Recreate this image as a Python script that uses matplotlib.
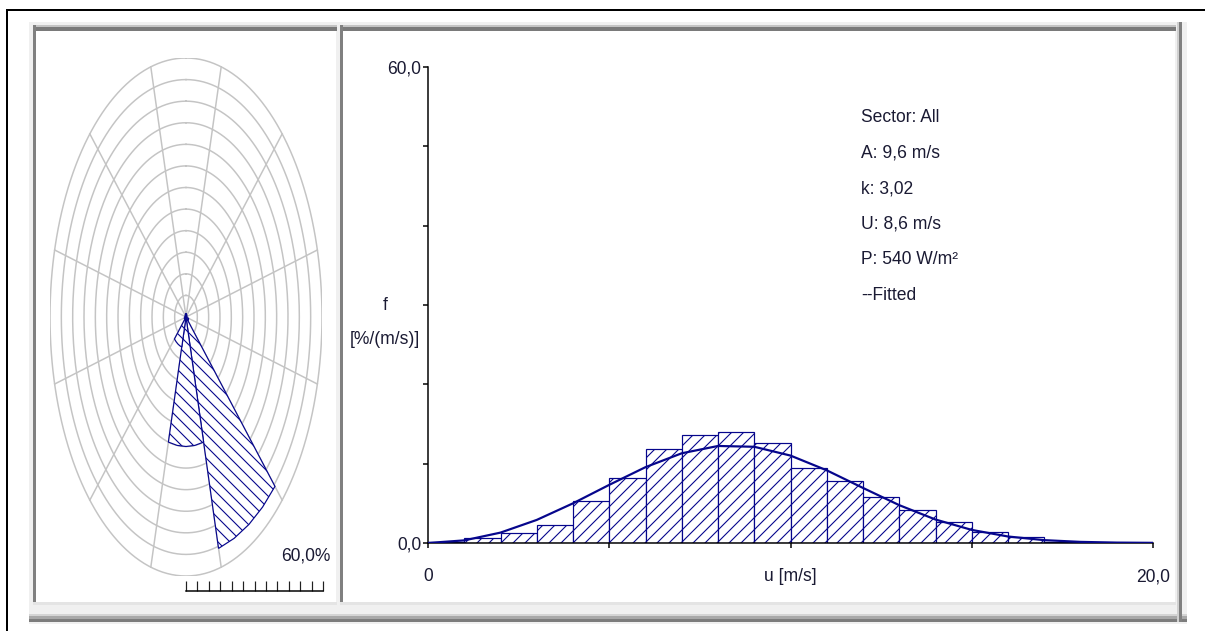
import matplotlib
matplotlib.use('Agg')
import matplotlib.pyplot as plt
from matplotlib.patches import Rectangle, Polygon
import numpy as np

# ---- data ----
# wind rose: 12 sectors, frequency in %
sector_centers = [0, 30, 60, 90, 120, 150, 180, 210, 240, 270, 300, 330]
sector_freq = [0.8, 0.6, 0.4, 0.4, 1.2, 55.5, 30.0, 7.2, 0.8, 0.5, 0.4, 0.6]
rose_rings = [5, 10, 15, 20, 25, 30, 35, 40, 45, 50, 55, 60]
rose_max = 60

# histogram, 1 m/s bins, f in %/(m/s)
bin_edges = list(range(0, 21))
hist_vals = [0.1, 0.6, 1.2, 2.3, 5.3, 8.2, 11.9, 13.6, 14.0, 12.6,
             9.4, 7.8, 5.8, 4.2, 2.7, 1.4, 0.7, 0.15, 0.0, 0.0]

# fitted Weibull curve (A 9,6 / k 3,02) read at each m/s
fit_u = list(range(0, 21))
fit_f = [0.0, 0.33, 1.31, 2.91, 5.0, 7.33, 9.56, 11.31, 12.23, 12.13,
         11.02, 9.16, 6.94, 4.77, 2.96, 1.65, 0.82, 0.36, 0.14, 0.05, 0.02]

info_lines = ['Sector: All', 'A: 9,6 m/s', 'k: 3,02', 'U: 8,6 m/s',
              'P: 540 W/m\u00b2', '--Fitted']

x_ticks = [0, 5, 10, 15, 20]
x_labels = ['0', '', 'u [m/s]', '', '20,0']
y_ticks = [0, 10, 20, 30, 40, 50, 60]
y_labels = ['0,0', '', '', '', '', '', '60,0']

NAVY = '#06068c'
TXT = '#1a1a33'
GRID = '#c4c4c4'
FS = 17.5

W, H = 1205, 631
DPI = 72
plt.rcParams['font.family'] = ['Liberation Sans', 'DejaVu Sans']
plt.rcParams['hatch.color'] = NAVY
plt.rcParams['hatch.linewidth'] = 1.1

fig = plt.figure(figsize=(W / DPI, H / DPI), dpi=DPI)
fig.patch.set_facecolor('white')


def fx(px):
    return px / W


def fy(py):
    return 1 - py / H


def box(x0, y0, x1, y1, color):
    fig.patches.append(Rectangle((fx(x0), fy(y1)), (x1 - x0) / W, (y1 - y0) / H,
                                 transform=fig.transFigure, facecolor=color,
                                 edgecolor='none', zorder=-10))


# window frame
box(29, 22, 1187, 624, '#f0f0f0')
box(29, 614, 1187, 616, '#d4d4d4')
box(29, 616, 1187, 619, '#a8a8a8')
box(29, 619, 1187, 622, '#7c7c7c')
box(1177, 22, 1179, 622, '#d0d0d0')
box(1179, 22, 1182, 622, '#808080')
for x0, x1 in [(33, 337), (340, 1176)]:
    box(x0, 25, x1, 27, '#c4c4c4')
    box(x0, 27, x1, 31, '#7a7a7a')
    box(x0, 25, x0 + 3, 604, '#808080')
    box(x0 + 3, 31, x1 - 1, 602, 'white')
    box(x0, 602, x1, 605, '#e4e4e4')
box(6, 9, 1205, 11, 'black')
box(6, 9, 8, 631, 'black')

# ---- wind rose ----
ax_r = fig.add_axes([fx(50), fy(576), 272 / W, 518 / H])
ax_r.set_xlim(-rose_max, rose_max)
ax_r.set_ylim(-rose_max, rose_max)
ax_r.axis('off')
t = np.linspace(0, 2 * np.pi, 361)
for r in rose_rings:
    ax_r.plot(r * np.sin(t), r * np.cos(t), color=GRID, lw=1.5, zorder=1)
for c in sector_centers:
    a = np.radians(c + 15)
    ax_r.plot([0, rose_max * np.sin(a)], [0, rose_max * np.cos(a)],
              color=GRID, lw=1.5, zorder=1)
for c, f in zip(sector_centers, sector_freq):
    th = np.radians(np.linspace(c - 15, c + 15, 5))
    pts = [(0, 0)] + list(zip(f * np.sin(th), f * np.cos(th)))
    ax_r.add_patch(Polygon(pts, closed=True, facecolor='white', edgecolor=NAVY,
                           hatch='\\\\', lw=1.2, zorder=3))

# scale bar under the rose
ax_s = fig.add_axes([fx(186), fy(591), 137 / W, 14 / H])
ax_s.set_xlim(0, rose_max)
ax_s.set_ylim(0, 1)
ax_s.patch.set_visible(False)
for s in ['top', 'right', 'left']:
    ax_s.spines[s].set_visible(False)
ax_s.spines['bottom'].set_linewidth(1.5)
ax_s.set_yticks([])
ax_s.set_xticks(rose_rings + [0])
ax_s.set_xticklabels([])
ax_s.tick_params(axis='x', direction='in', length=10, width=1.2, color='#202020')
fig.text(fx(330), fy(556), '60,0%', ha='right', va='center', fontsize=FS, color=TXT)

# ---- histogram ----
ax_h = fig.add_axes([fx(428), fy(543), 725 / W, 476 / H])
ax_h.patch.set_visible(False)
ax_h.bar(bin_edges[:-1], hist_vals, width=1, align='edge', facecolor='white',
         edgecolor=NAVY, hatch='//', lw=1.2, zorder=2)
ax_h.plot(fit_u, fit_f, color=NAVY, lw=2.2, zorder=3)
ax_h.set_xlim(0, 20)
ax_h.set_ylim(0, 60)
ax_h.spines['top'].set_visible(False)
ax_h.spines['right'].set_visible(False)
ax_h.spines['left'].set_linewidth(1.5)
ax_h.spines['bottom'].set_linewidth(1.5)
ax_h.set_xticks(x_ticks)
ax_h.set_xticklabels(x_labels)
ax_h.set_yticks(y_ticks)
ax_h.set_yticklabels(y_labels)
ax_h.tick_params(axis='x', length=5, width=1.5, pad=20, labelsize=FS, labelcolor=TXT)
ax_h.tick_params(axis='y', length=5, width=1.5, pad=2, labelsize=FS, labelcolor=TXT)

fig.text(fx(385), fy(305), 'f', ha='center', va='center', fontsize=FS, color=TXT)
fig.text(fx(385), fy(340), '[%/(m/s)]', ha='center', va='center', fontsize=FS, color=TXT)

for i, line in enumerate(info_lines):
    fig.text(fx(861), fy(118 + i * 35.4), line, ha='left', va='center',
             fontsize=FS, color=TXT)

fig.savefig('out.png', dpi=DPI)
